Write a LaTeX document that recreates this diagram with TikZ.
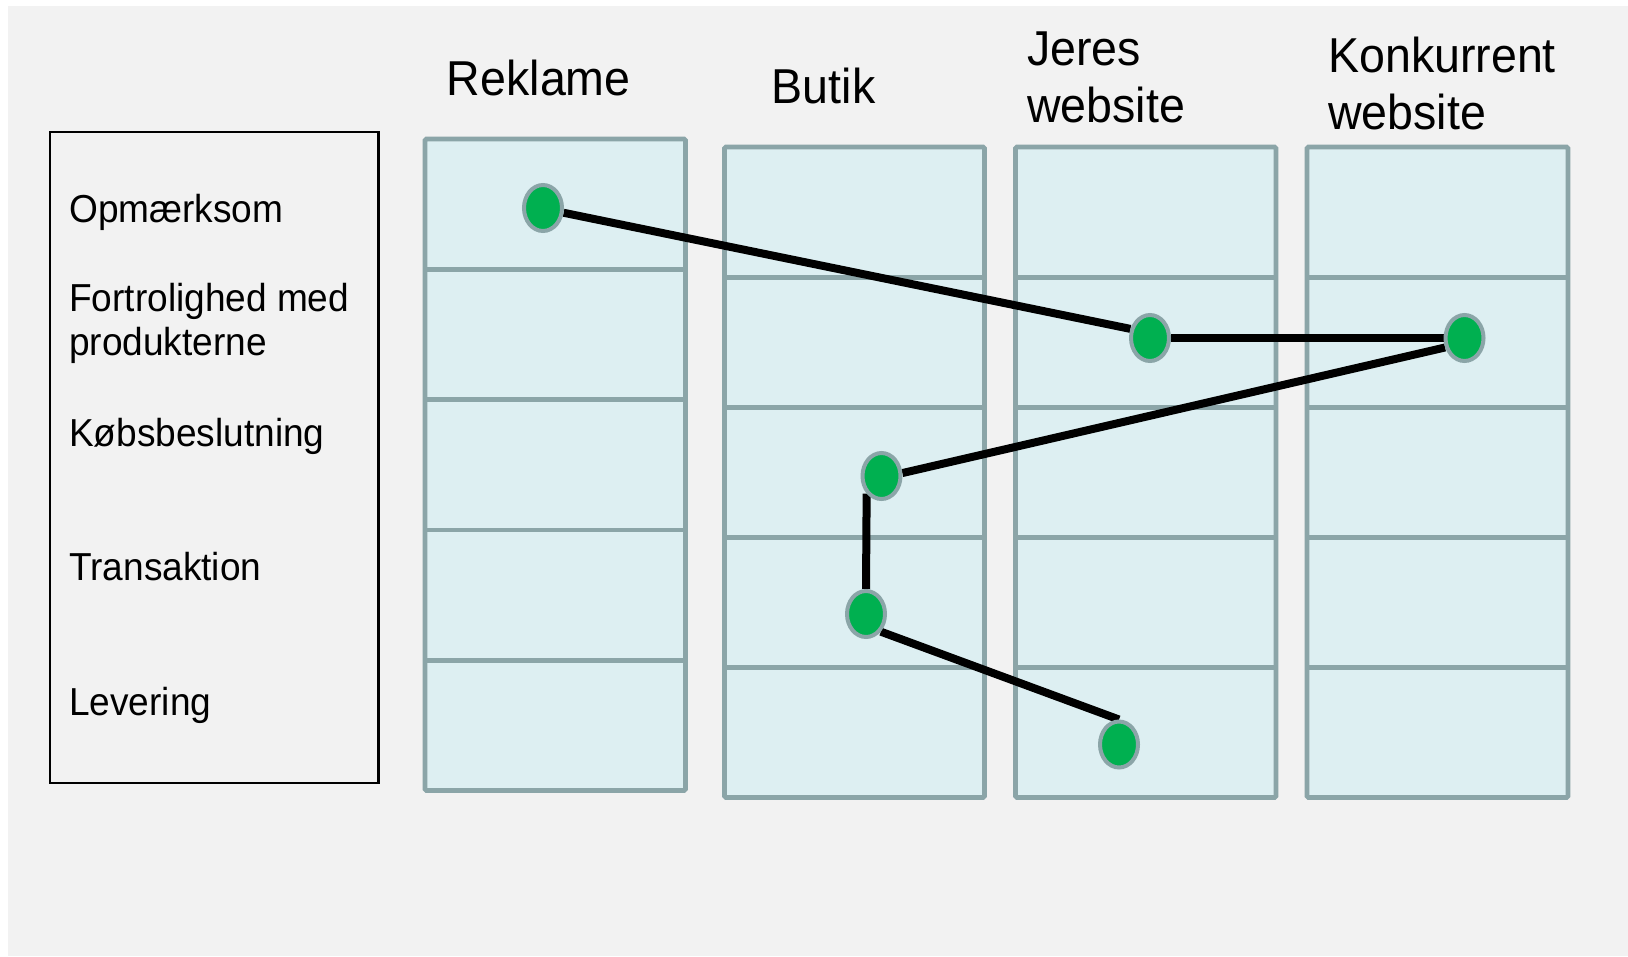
\documentclass[tikz,border=0pt]{standalone}
\usepackage{fontspec}
\setmainfont{Liberation Sans}[FakeStretch=0.95]
\usetikzlibrary{shapes.geometric}
\definecolor{pagegray}{HTML}{F2F2F2}
\definecolor{cellfill}{HTML}{DDEFF2}
\definecolor{cellline}{HTML}{8BA5A8}
\definecolor{dotgreen}{HTML}{00B050}
\pgfdeclarelayer{bg}
\pgfdeclarelayer{mid}
\pgfsetlayers{bg,mid,main}
\tikzset{
  headtext/.style={anchor=base west, inner sep=0pt, font=\fontsize{49}{58}\selectfont},
  rowtext/.style={anchor=base west, inner sep=0pt, font=\fontsize{39}{46}\selectfont},
  column/.style={draw=cellline, fill=cellfill, line width=4.8pt, rounded corners=1.5pt},
  rowline/.style={draw=cellline, line width=4.8pt},
  dot/.style={ellipse, draw=cellline, fill=dotgreen, line width=4pt,
    minimum width=38pt, minimum height=46pt, inner sep=0pt},
  path/.style={draw=black, line width=8pt}
}
\begin{document}
\begin{tikzpicture}[x=1pt, y=-1pt]
\useasboundingbox (0,0) rectangle (1628,956);

\begin{pgfonlayer}{bg}
  % page background
  \fill[pagegray] (8,6) rectangle (1628,956);
  % legend box
  \draw[black, line width=2.5pt] (50,132) rectangle (378.5,783);
  % column 1 (Reklame)
  \draw[column] (425,139) rectangle (685.5,790.5);
  \foreach \y in {269.3,399.6,529.9,660.2}
    \draw[rowline] (425,\y) -- (685.5,\y);
  % columns 2-4
  \foreach \xa/\xb in {724.5/984.5, 1015.5/1276, 1307/1568}{
    \draw[column] (\xa,147) rectangle (\xb,797.5);
    \foreach \y in {277.1,407.2,537.3,667.4}
      \draw[rowline] (\xa,\y) -- (\xb,\y);
  }
\end{pgfonlayer}

% row labels
\node[rowtext] (l1) at (69,222.5) {Opmærksom};
\node[rowtext] (l2a) at (69,311) {Fortrolighed med};
\node[rowtext] (l2b) at (69,355) {produkterne};
\node[rowtext] (l3) at (69,446.7) {Købsbeslutning};
\node[rowtext] (l4) at (69,580.7) {Transaktion};
\node[rowtext] (l5) at (69,715) {Levering};

% column headings
\node[headtext] (h1) at (446.7,95) {Reklame};
\node[headtext] (h2) at (771.7,103.3) {Butik};
\node[headtext] (h3a) at (1027,65) {Jeres};
\node[headtext] (h3b) at (1027,122) {website};
\node[headtext] (h4a) at (1328,72) {Konkurrent};
\node[headtext] (h4b) at (1328,129) {website};

% journey points
\node[dot] (d1) at (543,208) {};
\node[dot] (d2) at (1150,338) {};
\node[dot] (d3) at (1464.5,338) {};
\node[dot] (d4) at (881.5,476) {};
\node[dot] (d5) at (866,614) {};
\node[dot] (d6) at (1119,744.5) {};

% journey path
\begin{pgfonlayer}{mid}
  \draw[path] (d1.-13) -- (d2.155);
  \draw[path] (d2.east) -- (d3.west);
  \draw[path] (d3.206) -- (d4.8);
  \draw[path] (d4.south west) -- (d5.north);
  \draw[path] (d5.south east) -- (d6.north);
\end{pgfonlayer}
\end{tikzpicture}
\end{document}
